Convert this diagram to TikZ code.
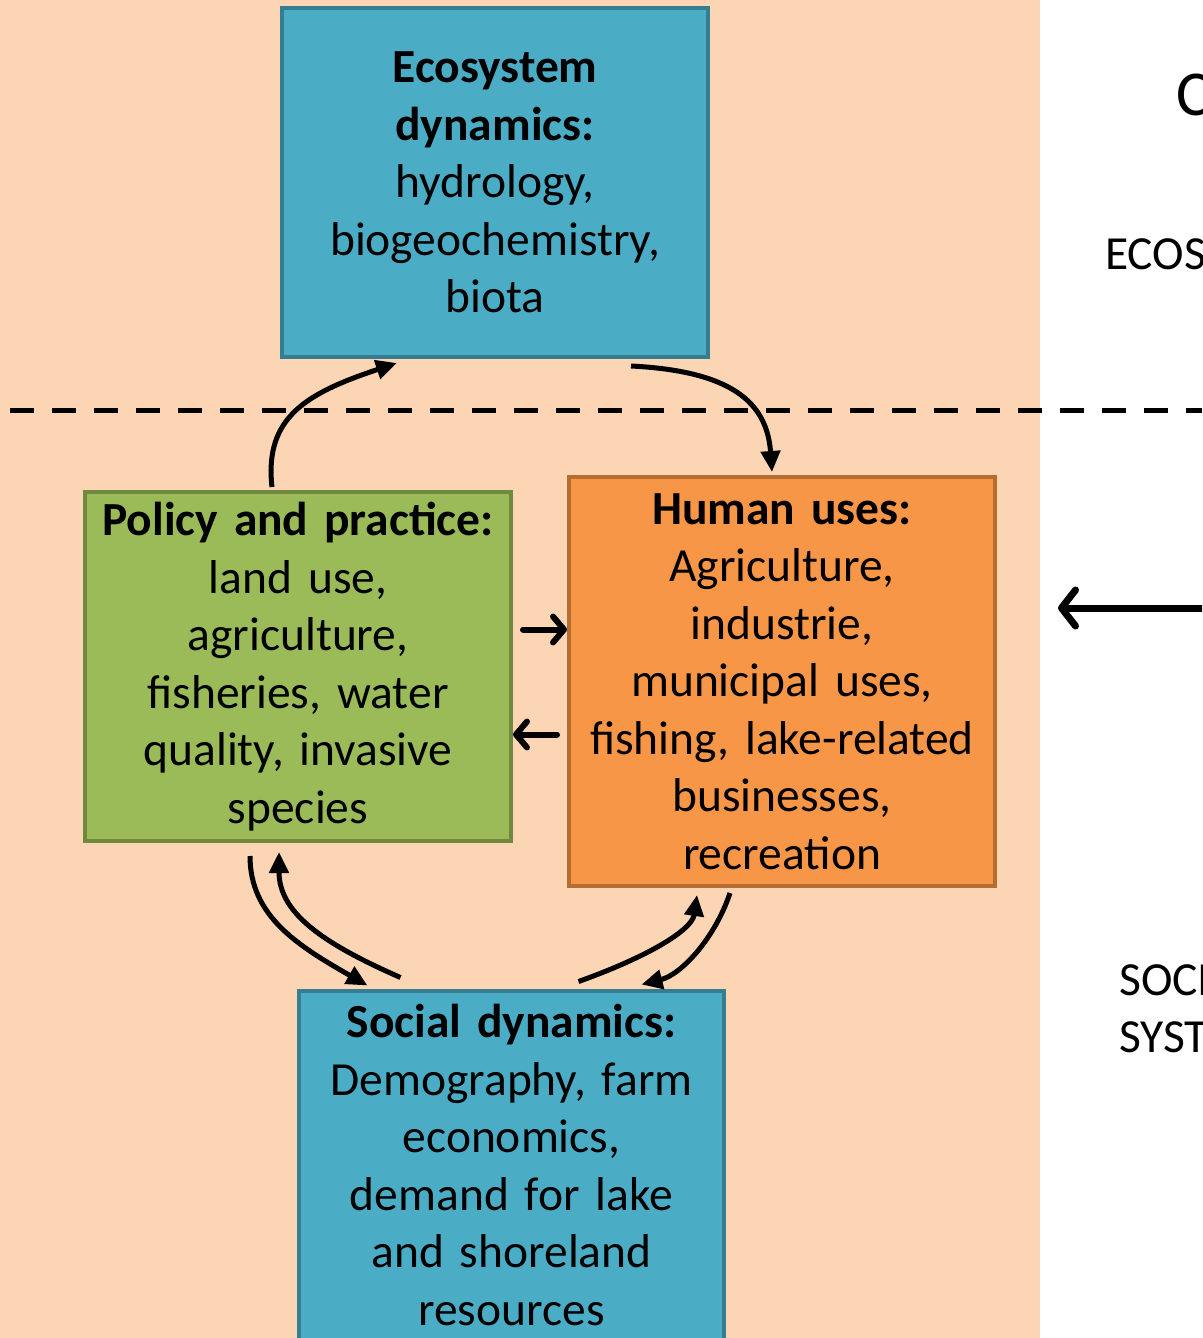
\documentclass[tikz,border=0pt]{standalone}
\usepackage{fontspec}
\setmainfont{Carlito}
\usetikzlibrary{arrows.meta}
\definecolor{peach}{HTML}{FCD5B5}
\definecolor{ecofill}{HTML}{4BACC6}
\definecolor{ecoline}{HTML}{357D91}
\definecolor{polfill}{HTML}{9BBB59}
\definecolor{polline}{HTML}{71893F}
\definecolor{usefill}{HTML}{F79646}
\definecolor{useline}{HTML}{B66D31}

\begin{document}
\begin{tikzpicture}[x=1pt,y=-1pt,
   box/.style={line width=4pt,minimum width=426pt,minimum height=349pt,
     text width=416pt,align=center,inner sep=0pt,
     font=\fontsize{47.5}{57.5}\selectfont},
   bluebox/.style={box,fill=ecofill,draw=ecoline},
   greenbox/.style={box,fill=polfill,draw=polline},
   orangebox/.style={box,fill=usefill,draw=useline,minimum height=409pt},
   side/.style={anchor=base west,inner sep=0pt,font=\fontsize{47.5}{55}\selectfont},
   link/.style={line width=5pt,-{Triangle[length=21pt,width=19pt]}},
   hint/.style={line width=6pt,line cap=round,
     -{Straight Barb[length=11pt,width=26pt,line cap=round,line join=round]}}]
\useasboundingbox (0,0) rectangle (1202,1338);
\clip (0,0) rectangle (1202,1338);
\fill[peach] (0,0) rectangle (1040,1338);
\draw[line width=5pt,dash pattern=on 24pt off 18pt,dash phase=-10pt] (0,410) -- (1202,410);

% boxes
\node[bluebox] (eco) at (495,182.5)
  {\textbf{Ecosystem}\\\textbf{dynamics:}\\hydrology,\\biogeochemistry,\\biota};
\node[greenbox] (policy) at (298,666.5)
  {\textbf{Policy and practice:}\\land use,\\agriculture,\\fisheries, water\\quality, invasive\\species};
\node[orangebox] (human) at (782,681.5)
  {\textbf{Human uses:}\\Agriculture,\\industrie,\\municipal uses,\\fishing, lake-related\\businesses,\\recreation};
\node[bluebox,minimum width=425pt] (social) at (511.5,1165)
  {\textbf{Social dynamics:}\\Demography, farm\\economics,\\demand for lake\\and shoreland\\resources};

% labels on the right
\node[side,font=\fontsize{64}{70}\selectfont] (title) at (1176,115) {C};
\node[side] (ecolabel) at (1105,269) {ECOS};
\node[side] (soclabel1) at (1119,995) {SOCI};
\node[side] (soclabel2) at (1119,1052) {SYST};

% curved links
\draw[link] ([xshift=-26pt,yshift=3pt]policy.north)
  .. controls +(-8,-70) and +(-90,30) .. ([xshift=-98pt,yshift=-4pt]eco.south);
\draw[link] ([xshift=136pt,yshift=-7pt]eco.south)
  .. controls +(100,5) and +(-5,-70) .. ([xshift=-10pt,yshift=3pt]human.north);
\draw[link] ([xshift=-48pt,yshift=-13pt]policy.south)
  .. controls +(0,60) and +(-70,-40) .. ([xshift=-144pt,yshift=3pt]social.north);
\draw[link] ([xshift=-111pt,yshift=11pt]social.north)
  .. controls +(-80,-35) and +(0,60) .. ([xshift=-19pt,yshift=-9pt]policy.south);
\draw[link] ([xshift=67pt,yshift=7pt]social.north)
  .. controls +(70,-25) and +(-5,35) .. ([xshift=-85pt,yshift=-7pt]human.south);
\draw[link] ([xshift=-52pt,yshift=-5pt]human.south)
  .. controls +(-15,45) and +(40,-10) .. ([xshift=130pt,yshift=4pt]social.north);

% short arrows between the two boxes
\draw[hint] ([xshift=-44pt,yshift=52pt]human.west) -- ([yshift=52pt]human.west);
\draw[hint] ([xshift=44pt,yshift=-68pt]policy.east) -- ([yshift=-68pt]policy.east);

% arrow coming in from the right
\coordinate (farright) at (1210,608);
\coordinate (arrowend) at (1058,608);
\draw[hint,line width=7pt,-{Straight Barb[length=14pt,width=36pt,line cap=round,line join=round]}]
  (farright) -- (arrowend);
\end{tikzpicture}
\end{document}
